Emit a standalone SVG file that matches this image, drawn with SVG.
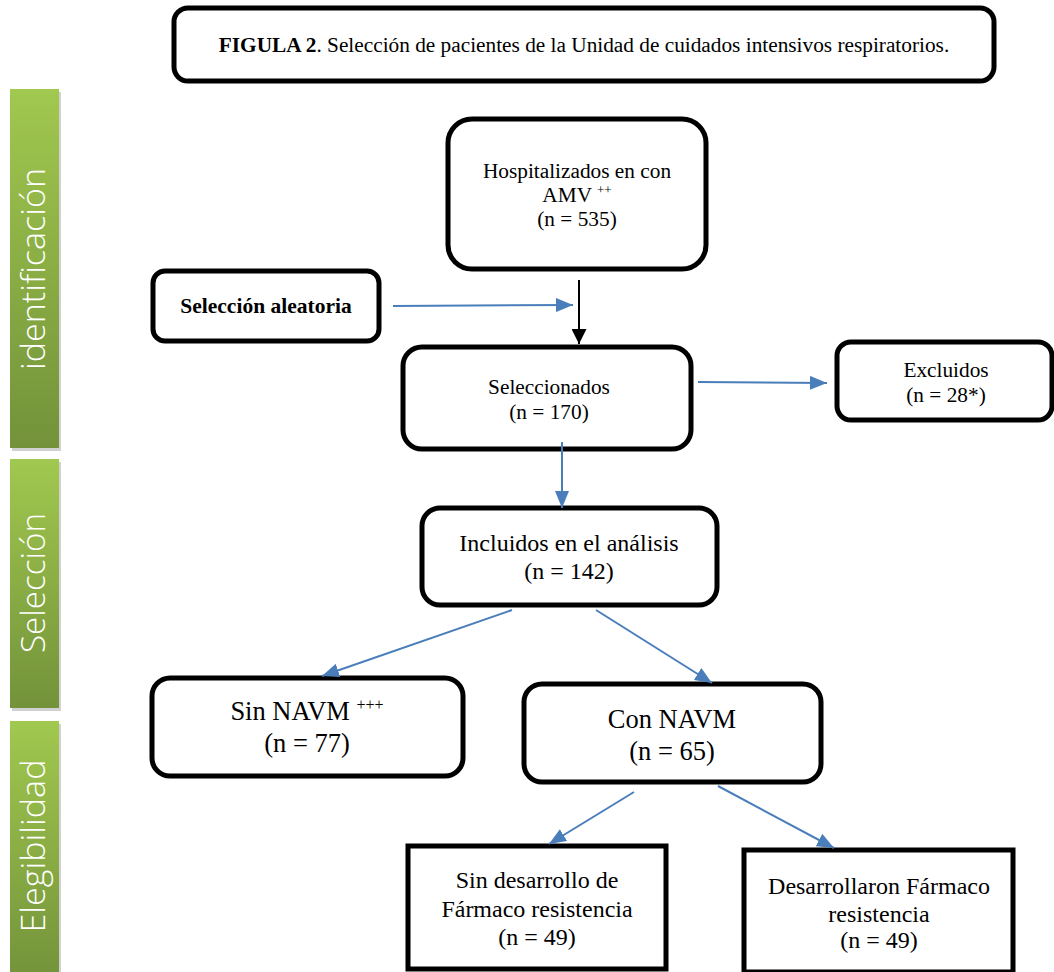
<svg xmlns="http://www.w3.org/2000/svg" width="1054" height="972" viewBox="0 0 1054 972">
<defs>
<linearGradient id="g" x1="0" y1="0" x2="0" y2="1">
<stop offset="0" stop-color="#a1c84f"/>
<stop offset="1" stop-color="#73923a"/>
</linearGradient>
<marker id="ab" markerUnits="userSpaceOnUse" markerWidth="17" markerHeight="14" refX="17" refY="7" orient="auto">
<path d="M0,0 L17,7 L0,14 z" fill="#4a7ebb"/>
</marker>
<marker id="ak" markerUnits="userSpaceOnUse" markerWidth="15" markerHeight="15" refX="15" refY="7.5" orient="auto">
<path d="M0,0 L15,7.5 L0,15 z" fill="#000"/>
</marker>
</defs>
<style>
.box{fill:#fff;stroke:#000;stroke-width:5}
.t{font-family:"Liberation Serif","Times New Roman",serif;fill:#000;text-anchor:middle}
.bar{fill:url(#g)}
.sh{fill:#000;opacity:0.18}
.bt{font-family:"Open Sans","Noto Sans",sans-serif;font-weight:300;fill:#fff;text-anchor:middle;font-size:33px}
.c{fill:none;stroke:#4a7ebb;stroke-width:2;marker-end:url(#ab)}
</style>
<rect width="1054" height="972" fill="#fff"/>

<g id="bar-identificacion">
<rect class="sh" x="12" y="92" width="49" height="359"/>
<rect class="bar" x="10" y="89" width="49" height="359"/>
<text class="bt" x="45" y="269" transform="rotate(-90 45 269)" textLength="202" lengthAdjust="spacingAndGlyphs">identificación</text>
</g>
<g id="bar-seleccion">
<rect class="sh" x="12" y="462" width="49" height="249"/>
<rect class="bar" x="10" y="459" width="49" height="249"/>
<text class="bt" x="45" y="583" transform="rotate(-90 45 583)" textLength="140" lengthAdjust="spacingAndGlyphs">Selección</text>
</g>
<g id="bar-elegibilidad">
<rect class="sh" x="12" y="724" width="49" height="260"/>
<rect class="bar" x="10" y="721" width="49" height="260"/>
<text class="bt" x="45" y="846" transform="rotate(-90 45 846)" textLength="173" lengthAdjust="spacingAndGlyphs">Elegibilidad</text>
</g>

<g id="title">
<rect class="box" x="174" y="8" width="820" height="73" rx="14"/>
<text class="t" x="584" y="52" font-size="21.3"><tspan font-weight="bold">FIGULA 2</tspan>. Selección de pacientes de la Unidad de cuidados intensivos respiratorios.</text>
</g>

<g id="hospitalizados">
<rect class="box" x="448" y="119" width="258" height="150" rx="24"/>
<text class="t" font-size="21.3"><tspan x="577" y="178">Hospitalizados en con</tspan><tspan x="577" y="202">AMV <tspan font-size="13" dy="-8">++</tspan></tspan><tspan x="577" y="226">(n = 535)</tspan></text>
</g>

<g id="seleccion-aleatoria">
<rect class="box" x="153" y="271" width="226" height="70" rx="12"/>
<text class="t" x="266" y="313" font-size="21.5" font-weight="bold">Selección aleatoria</text>
</g>

<g id="seleccionados">
<rect class="box" x="403" y="347" width="288" height="102" rx="19"/>
<text class="t" font-size="21.3"><tspan x="549" y="394">Seleccionados</tspan><tspan x="549" y="419">(n = 170)</tspan></text>
</g>

<g id="excluidos">
<rect class="box" x="837" y="342" width="215" height="78" rx="14"/>
<text class="t" font-size="21.3"><tspan x="946" y="377">Excluidos</tspan><tspan x="946" y="402">(n = 28*)</tspan></text>
</g>

<g id="incluidos">
<rect class="box" x="422" y="508" width="295" height="97" rx="18"/>
<text class="t" font-size="24"><tspan x="569" y="551">Incluidos en el análisis</tspan><tspan x="569" y="579">(n = 142)</tspan></text>
</g>

<g id="sin-navm">
<rect class="box" x="152" y="678" width="311" height="98" rx="18"/>
<text class="t" font-size="26.5"><tspan x="307" y="720">Sin NAVM <tspan font-size="16" dy="-10">+++</tspan></tspan><tspan x="307" y="752">(n = 77)</tspan></text>
</g>

<g id="con-navm">
<rect class="box" x="524" y="684" width="297" height="98" rx="18"/>
<text class="t" font-size="26.5"><tspan x="672" y="728">Con NAVM</tspan><tspan x="672" y="760">(n = 65)</tspan></text>
</g>

<g id="sin-desarrollo">
<rect class="box" x="408" y="846" width="258" height="123"/>
<text class="t" font-size="24"><tspan x="537" y="888">Sin desarrollo de</tspan><tspan x="537" y="917">Fármaco resistencia</tspan><tspan x="537" y="945">(n = 49)</tspan></text>
</g>

<g id="desarrollaron">
<rect class="box" x="744" y="850" width="269" height="122"/>
<text class="t" font-size="24"><tspan x="879" y="894">Desarrollaron Fármaco</tspan><tspan x="879" y="922">resistencia</tspan><tspan x="879" y="948">(n = 49)</tspan></text>
</g>

<g id="connectors">
<line class="c" x1="393" y1="306" x2="573" y2="305"/>
<line x1="579" y1="280" x2="579" y2="344" stroke="#000" stroke-width="2" marker-end="url(#ak)"/>
<line class="c" x1="698" y1="382" x2="827" y2="383"/>
<line class="c" x1="562" y1="442" x2="562" y2="508"/>
<line class="c" x1="512" y1="610" x2="322" y2="676"/>
<line class="c" x1="596" y1="610" x2="712" y2="683"/>
<line class="c" x1="634" y1="792" x2="549" y2="844"/>
<line class="c" x1="718" y1="786" x2="834" y2="848"/>
</g>
</svg>
